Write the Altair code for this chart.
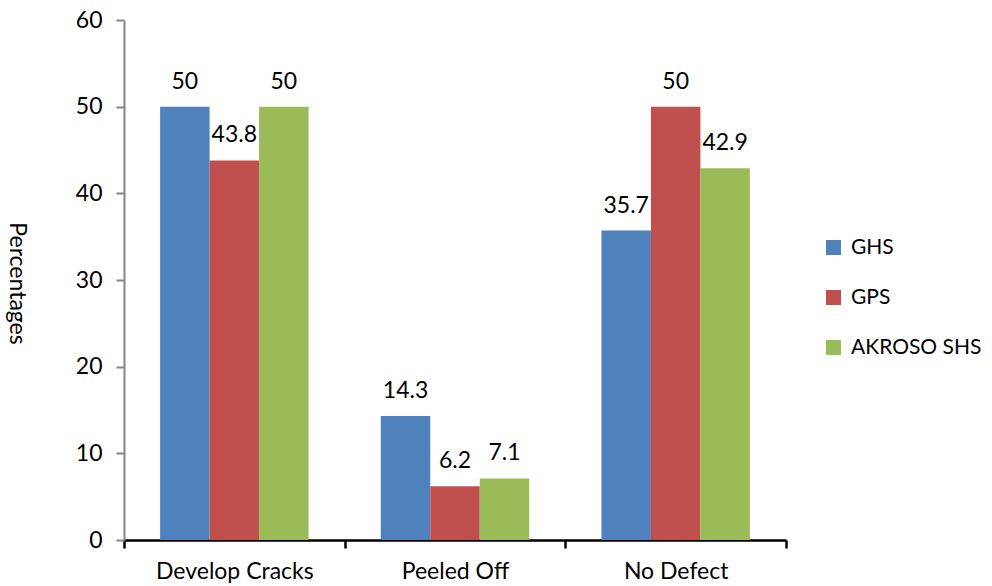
import altair as alt
import pandas as pd

# Share of samples by surface condition for each plaster type
categories = ["Develop Cracks", "Peeled Off", "No Defect"]
series = ["GHS", "GPS", "AKROSO SHS"]
ghs = [50, 14.3, 35.7]
gps = [43.8, 6.2, 50]
akroso = [50, 7.1, 42.9]
colors = ["#4F81BD", "#C0504D", "#9BBB59"]

rows = []
for name, vals in zip(series, [ghs, gps, akroso]):
    for cat, v in zip(categories, vals):
        rows.append({"category": cat, "series": name, "value": v})
df = pd.DataFrame(rows)

FONT = "Lato"
FS = 23

x = alt.X(
    "category:N",
    sort=categories,
    scale=alt.Scale(paddingInner=0, paddingOuter=0),
    axis=alt.Axis(
        title=None,
        labelAngle=0,
        labelFontSize=FS,
        labelFont=FONT,
        labelColor="#000000",
        labelBaseline="alphabetic",
        labelPadding=30,
        domainColor="#000000",
        domainWidth=2.5,
        tickColor="#000000",
        tickWidth=2.5,
        tickSize=8,
        tickBand="extent",
    ),
)
xoff = alt.XOffset(
    "series:N", sort=series, scale=alt.Scale(paddingInner=0, paddingOuter=0.73)
)

bars = alt.Chart(df).mark_bar().encode(
    x=x,
    xOffset=xoff,
    y=alt.Y(
        "value:Q",
        scale=alt.Scale(domain=[0, 60], nice=False),
        axis=alt.Axis(
            title="Percentages",
            titleAngle=90,
            titleFont=FONT,
            titleFontSize=FS,
            titleFontWeight="normal",
            titleColor="#000000",
            titleX=-108,
            titleY=263,
            titleAlign="center",
            titleBaseline="middle",
            values=[0, 10, 20, 30, 40, 50, 60],
            labelFontSize=FS,
            labelFont=FONT,
            labelColor="#000000",
            labelPadding=14,
            domainColor="#868686",
            domainWidth=2,
            tickColor="#868686",
            tickWidth=2,
            tickSize=8,
            grid=False,
        ),
    ),
    color=alt.Color(
        "series:N",
        sort=series,
        scale=alt.Scale(domain=series, range=colors),
        legend=alt.Legend(
            title=None,
            orient="none",
            legendX=699,
            legendY=217,
            symbolType="square",
            symbolSize=225,
            symbolStrokeWidth=0,
            labelFont=FONT,
            labelFontSize=21,
            labelColor="#000000",
            labelOffset=7,
            rowPadding=28,
        ),
    ),
)

labels = alt.Chart(df).mark_text(
    font=FONT, fontSize=FS, color="#000000", baseline="alphabetic", dy=-18
).encode(
    x=x,
    xOffset=xoff,
    y=alt.Y("value:Q"),
    text=alt.Text("value:Q"),
)

chart = (
    alt.layer(bars, labels)
    .properties(
        width=662,
        height=520,
        autosize=alt.AutoSizeParams(type="none"),
        padding={"left": 124, "top": 20, "right": 206, "bottom": 46},
    )
    .configure_view(stroke=None)
)

chart.save("out.html", embed_options={"renderer": "svg", "actions": False})
